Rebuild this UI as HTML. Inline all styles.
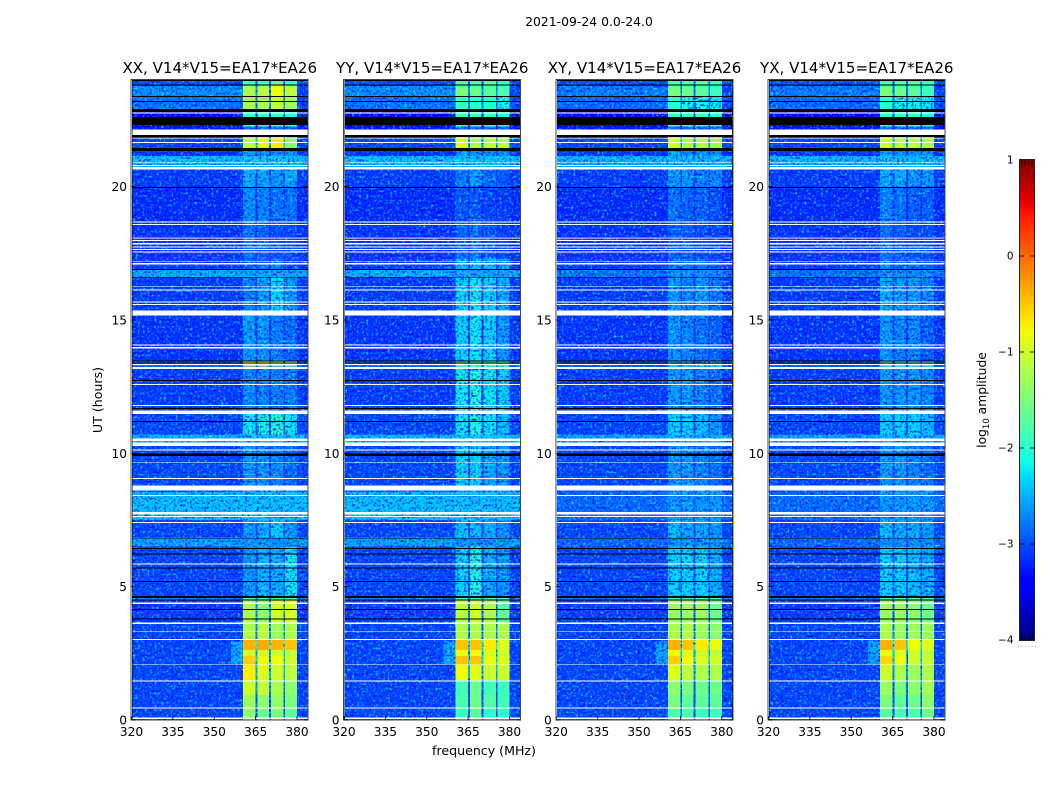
<!DOCTYPE html>
<html lang="en">
<head>
<meta charset="utf-8">
<title>Amplitude spectrogram 2021-09-24</title>
<style>
html,body{margin:0;padding:0;background:#fff;}
svg{display:block;}
text{font-family:"DejaVu Sans","Liberation Sans",sans-serif;fill:#000;}
</style>
</head>
<body>
<svg id="chart" xmlns="http://www.w3.org/2000/svg" width="1050" height="800" viewBox="0 0 1050 800">
<defs>
<filter id="grain-light" x="0" y="0" width="100%" height="100%" color-interpolation-filters="sRGB">
<feTurbulence type="fractalNoise" baseFrequency="0.42" numOctaves="2" seed="4"/>
<feColorMatrix values="0 0 0 0 0  2.8 0 0 0 -1.4  0 0 0 0 0  0 0 0 0 1"/>
</filter>
<filter id="grain-dark" x="0" y="0" width="100%" height="100%" color-interpolation-filters="sRGB">
<feTurbulence type="fractalNoise" baseFrequency="0.42" numOctaves="2" seed="11"/>
<feColorMatrix values="0 0 0 0 1  3 0 0 0 -0.55  0 0 0 0 1  0 0 0 0 1"/>
</filter>
</defs>
<text x="589" y="26" font-size="12.4" text-anchor="middle">2021-09-24 0.0-24.0</text>
<text x="484" y="755" font-size="12.6" text-anchor="middle">frequency (MHz)</text>
<text transform="translate(102,400) rotate(-90)" font-size="12.6" text-anchor="middle">UT (hours)</text>
<text transform="translate(986,400) rotate(-90)" font-size="12.3" text-anchor="middle">log<tspan font-size="8.5" dy="3">10</tspan><tspan dy="-3"> amplitude</tspan></text>
<g id="panels"></g>
<g id="colorbar"></g>
</svg>
<script>
// Panel titles and axis tick labels
const panelNames = ['XX', 'YY', 'XY', 'YX'];
const freqTicks = [320, 335, 350, 365, 380];
const hourTicks = [0, 5, 10, 15, 20];
const colorbarTicks = [1, 0, -1, -2, -3, -4];

// Sub-band frequency limits in MHz
const subbandStart = [360.5, 365.6, 370.5, 375.7];
const subbandEnd = [365.0, 369.8, 375.1, 380.0];

// Time sections, UT hours from top to bottom (one row for each pair of edges)
const sectionEdges = [24, 23.78, 23.40, 22.91, 22.25, 21.95, 21.45, 21.15, 20.65, 20.0, 18.7, 17.3, 16.87, 16.6, 15.15, 13.47, 13.25, 11.5, 10.7, 10.28, 8.75, 8.55, 7.95, 7.5, 6.85, 6.5, 4.65, 4.5, 3.68, 3.0, 2.62, 2.4, 2.06, 1.5, 0.94, 0.4, 0];

// Out-of-band log10 amplitude by section
const parallelBackground = [-3.0, -2.65, -2.8, -3.6, -3.35, -3.05, -3.15, -2.4, -3.1, -3.2, -3.15, -3.1, -2.5, -3.1, -3.15, -2.75, -3.1, -3.05, -2.45, -3.05, -3.0, -2.4, -2.4, -3.05, -2.55, -3.05, -2.65, -3.1, -3.05, -3.05, -3.05, -3.05, -3.05, -3.05, -3.05, -3.05];
const crossBackground = [-3.0, -2.75, -2.85, -3.6, -3.35, -3.05, -3.15, -2.45, -3.1, -3.2, -3.15, -3.1, -2.8, -3.1, -3.15, -2.85, -3.1, -3.05, -2.55, -3.05, -3.0, -2.85, -2.85, -3.05, -2.85, -3.05, -2.75, -3.1, -3.05, -3.05, -3.05, -3.05, -3.05, -3.05, -3.05, -3.05];

// In-band log10 amplitude, four sub-bands per section
const xxBands = [[-1.8,-1.8,-1.6,-1.9],[-1.2,-1.1,-0.8,-1.1],[-1.2,-1.2,-1.1,-1.3],[-1.9,-1.9,-1.9,-2.0],[-2.85,-2.85,-2.85,-2.85],[-1.1,-0.8,-0.7,-1.4],[-2.55,-2.65,-2.65,-2.65],[-2.35,-2.35,-2.35,-2.35],[-2.5,-2.5,-2.6,-2.5],[-2.65,-2.7,-2.8,-2.8],[-2.8,-2.9,-3.0,-3.0],[-2.95,-2.85,-2.75,-2.95],[-2.55,-2.55,-2.55,-2.55],[-2.75,-2.6,-2.25,-2.6],[-2.6,-2.6,-2.75,-2.85],[-0.8,-0.8,-1.2,-1.1],[-2.7,-2.7,-2.75,-2.75],[-2.2,-2.15,-2.05,-2.2],[-2.4,-2.4,-2.4,-2.4],[-2.6,-2.6,-2.7,-2.85],[-2.55,-2.55,-2.55,-2.55],[-2.4,-2.4,-2.4,-2.4],[-2.4,-2.4,-2.4,-2.4],[-2.6,-2.5,-2.3,-2.6],[-2.65,-2.65,-2.65,-2.65],[-2.6,-2.45,-2.5,-2.2],[-1.8,-1.8,-1.8,-1.8],[-1.2,-1.4,-1.0,-0.95],[-1.2,-1.1,-1.3,-1.2],[-0.4,-0.35,-0.4,-0.5],[-0.95,-0.95,-1.0,-1.1],[-0.55,-0.8,-0.8,-1.0],[-0.7,-0.9,-1.0,-1.1],[-1.0,-1.05,-1.2,-1.4],[-1.3,-1.4,-1.35,-1.5],[-1.4,-1.6,-1.5,-1.7]];
const yyBands = [[-1.8,-1.8,-1.7,-1.9],[-1.5,-1.6,-1.7,-1.8],[-1.9,-2.0,-2.0,-2.1],[-1.9,-1.9,-1.9,-2.0],[-2.85,-2.85,-2.85,-2.85],[-0.9,-1.2,-1.1,-1.1],[-2.55,-2.65,-2.65,-2.65],[-2.35,-2.35,-2.35,-2.35],[-2.75,-2.6,-2.85,-2.95],[-2.95,-2.95,-3.05,-3.1],[-2.85,-2.8,-2.95,-3.05],[-2.45,-2.4,-2.45,-2.6],[-2.55,-2.55,-2.55,-2.55],[-2.3,-2.2,-2.3,-2.5],[-2.3,-2.2,-2.3,-2.6],[-1.7,-1.7,-1.7,-1.7],[-2.2,-2.1,-2.2,-2.3],[-2.2,-2.1,-2.2,-2.4],[-2.35,-2.35,-2.35,-2.35],[-2.3,-2.3,-2.5,-2.6],[-2.55,-2.55,-2.55,-2.55],[-2.4,-2.4,-2.4,-2.4],[-2.4,-2.4,-2.4,-2.4],[-2.4,-2.4,-2.5,-2.6],[-2.65,-2.65,-2.65,-2.65],[-2.3,-2.1,-2.5,-2.6],[-1.8,-1.8,-1.8,-1.8],[-1.15,-1.0,-1.2,-1.7],[-1.2,-1.2,-1.2,-1.2],[-0.5,-0.5,-0.7,-0.9],[-0.8,-0.8,-0.9,-1.0],[-0.5,-0.5,-0.85,-0.9],[-0.8,-0.85,-1.0,-1.0],[-1.85,-1.6,-1.85,-1.9],[-1.8,-1.6,-1.75,-1.85],[-1.9,-1.7,-2.0,-2.0]];
const xyBands = [[-1.8,-1.8,-1.7,-1.9],[-1.5,-1.6,-1.7,-1.9],[-2.0,-2.1,-2.1,-2.2],[-1.9,-1.9,-1.9,-2.0],[-2.85,-2.85,-2.85,-2.85],[-1.0,-1.2,-1.2,-1.3],[-2.55,-2.65,-2.65,-2.65],[-2.4,-2.4,-2.4,-2.4],[-2.6,-2.6,-2.7,-2.7],[-2.8,-2.9,-2.9,-3.0],[-2.9,-2.9,-3.0,-3.05],[-2.8,-2.8,-2.8,-2.9],[-2.65,-2.65,-2.65,-2.65],[-2.6,-2.7,-2.6,-2.8],[-2.6,-2.7,-2.8,-2.9],[-2.1,-2.1,-2.1,-2.1],[-2.6,-2.6,-2.7,-2.8],[-2.3,-2.3,-2.4,-2.6],[-2.45,-2.45,-2.45,-2.45],[-2.6,-2.6,-2.7,-2.8],[-2.55,-2.55,-2.55,-2.55],[-2.6,-2.6,-2.6,-2.6],[-2.6,-2.6,-2.6,-2.6],[-2.4,-2.5,-2.5,-2.6],[-2.65,-2.65,-2.65,-2.65],[-2.3,-2.3,-2.3,-2.5],[-1.8,-1.8,-1.8,-1.8],[-1.3,-1.3,-1.3,-1.6],[-1.2,-1.2,-1.3,-1.4],[-0.4,-0.5,-0.7,-0.85],[-0.8,-0.9,-1.0,-1.1],[-0.55,-0.8,-0.9,-1.0],[-0.9,-1.1,-1.2,-1.2],[-1.4,-1.5,-1.6,-1.6],[-1.5,-1.7,-1.7,-1.7],[-1.8,-1.8,-1.9,-1.9]];
const yxBands = [[-1.8,-1.8,-1.7,-1.9],[-1.5,-1.6,-1.7,-1.9],[-2.0,-2.1,-2.1,-2.2],[-1.9,-1.9,-1.9,-2.0],[-2.85,-2.85,-2.85,-2.85],[-1.0,-1.1,-1.1,-1.2],[-2.55,-2.65,-2.65,-2.65],[-2.4,-2.4,-2.4,-2.4],[-2.5,-2.5,-2.6,-2.6],[-2.7,-2.8,-2.9,-2.9],[-2.8,-2.9,-3.0,-3.0],[-2.7,-2.8,-2.8,-2.9],[-2.65,-2.65,-2.65,-2.65],[-2.5,-2.6,-2.6,-2.7],[-2.6,-2.7,-2.7,-2.9],[-1.7,-1.7,-1.7,-1.7],[-2.6,-2.6,-2.6,-2.7],[-2.3,-2.3,-2.3,-2.4],[-2.45,-2.45,-2.45,-2.45],[-2.6,-2.6,-2.7,-2.8],[-2.55,-2.55,-2.55,-2.55],[-2.6,-2.6,-2.6,-2.6],[-2.6,-2.6,-2.6,-2.6],[-2.4,-2.5,-2.5,-2.6],[-2.65,-2.65,-2.65,-2.65],[-2.3,-2.3,-2.4,-2.5],[-1.8,-1.8,-1.8,-1.8],[-1.3,-1.3,-1.4,-1.6],[-1.2,-1.3,-1.3,-1.3],[-0.4,-0.5,-0.8,-0.9],[-0.8,-0.9,-1.0,-1.1],[-0.6,-0.8,-1.0,-1.05],[-1.0,-1.2,-1.3,-1.2],[-1.3,-1.5,-1.4,-1.25],[-1.5,-1.7,-1.6,-1.4],[-1.7,-1.8,-1.8,-1.6]];

// Weak emission just below the band around 2-3 UT: start MHz, end MHz, top hour, bottom hour, level
const shoulderSpan = [356, 360.5, 2.95, 2.1, -2.55];

// Darker strip above the band near the top of the day: start MHz, end MHz, top hour, bottom hour, level
const upperEdgeSpan = [380, 384, 23.78, 22.91, -3.05];

// Flagged time spans, UT hours [top, bottom]
const whiteFlags = [[22.78,22.74],[22.14,21.93],[21.81,21.78],[21.68,21.64],[20.91,20.88],[20.81,20.78],[20.73,20.65],[18.69,18.65],[18.60,18.56],[18.09,18.05],[18.0,17.96],[17.88,17.84],[17.76,17.72],[17.66,17.63],[17.56,17.53],[17.22,17.19],[17.13,17.09],[16.26,16.23],[16.14,16.11],[15.69,15.65],[15.6,15.56],[15.35,15.17],[14.08,14.05],[13.99,13.94],[13.35,13.31],[13.23,13.17],[12.6,12.56],[11.81,11.78],[11.6,11.48],[10.56,10.46],[10.41,10.28],[10.15,10.11],[9.66,9.63],[9.08,9.04],[8.79,8.6],[8.44,8.4],[7.8,7.71],[7.65,7.61],[7.43,7.39],[5.87,5.83],[4.4,4.35],[3.66,3.6],[3.34,3.31],[3.04,3.0],[2.09,2.06],[1.48,1.45],[0.47,0.44],[0.09,0.04]];
const blackFlags = [[24,23.96],[23.83,23.79],[23.4,23.36],[23.21,23.18],[22.91,22.8],[22.61,22.31],[21.93,21.87],[21.45,21.34],[19.99,19.95],[18.12,18.09],[16.92,16.87],[16.62,16.59],[13.48,13.45],[13.4,13.36],[12.75,12.71],[11.7,11.66],[11.21,11.18],[10.0,9.9],[6.81,6.78],[6.45,6.41],[6.24,6.21],[5.72,5.69],[5.21,5.18],[4.65,4.58],[4.52,4.48],[4.16,4.13],[3.81,3.77]];

const NS = 'http://www.w3.org/2000/svg';
const panelLeft = [131.5, 344, 556.3, 768.5];
const panelWidth = 176.5;
const plotTop = 80;
const plotBottom = 720;
const freqMin = 320;
const freqMax = 384;
const hourMax = 24;
const levelMin = -4;
const levelMax = 1;
const smoothLevel = -2.05;
const barLeft = 1019;
const barRight = 1035;
const barTop = 160;
const barBottom = 640;

function make(tag, attrs, parent) {
  const el = document.createElementNS(NS, tag);
  for (const k in attrs) el.setAttribute(k, attrs[k]);
  parent.appendChild(el);
  return el;
}
function ramp(t, pts) {
  for (let i = 1; i < pts.length; i++) {
    if (t <= pts[i][0]) {
      const a = pts[i - 1], b = pts[i];
      return a[1] + (b[1] - a[1]) * (t - a[0]) / (b[0] - a[0]);
    }
  }
  return pts[pts.length - 1][1];
}
function jet(level) {
  const t = Math.max(0, Math.min(1, (level - levelMin) / (levelMax - levelMin)));
  const r = ramp(t, [[0, 0], [0.35, 0], [0.66, 1], [0.89, 1], [1, 0.5]]);
  const g = ramp(t, [[0, 0], [0.125, 0], [0.375, 1], [0.64, 1], [0.91, 0], [1, 0]]);
  const b = ramp(t, [[0, 0.5], [0.11, 1], [0.34, 1], [0.65, 0], [1, 0]]);
  return 'rgb(' + Math.round(r * 255) + ',' + Math.round(g * 255) + ',' + Math.round(b * 255) + ')';
}
function xScale(panel, f) {
  return panelLeft[panel] + (f - freqMin) * panelWidth / (freqMax - freqMin);
}
function yScale(h) {
  return plotBottom - h * (plotBottom - plotTop) / hourMax;
}
function barScale(level) {
  return barBottom - (level - levelMin) * (barBottom - barTop) / (levelMax - levelMin);
}
function cell(parent, panel, f0, f1, h0, h1, fill) {
  const x0 = xScale(panel, f0), x1 = xScale(panel, f1), y0 = yScale(h0), y1 = yScale(h1);
  const r = make('rect', {x: x0, y: y0, width: x1 - x0, height: y1 - y0, fill: fill, 'shape-rendering': 'crispEdges'}, parent);
  return r;
}

const panelsRoot = document.getElementById('panels');
const bandSets = [xxBands, yyBands, xyBands, yxBands];
const backgroundSets = [parallelBackground, parallelBackground, crossBackground, crossBackground];

panelNames.forEach(function (name, p) {
  const g = make('g', {style: 'isolation:isolate'}, panelsRoot);
  
  

  const heat = make('g', {}, g);
  
  

  const bands = bandSets[p];
  const bg = backgroundSets[p];
  for (let s = 0; s < sectionEdges.length - 1; s++) {
    const h0 = sectionEdges[s], h1 = sectionEdges[s + 1];
    const back = cell(heat, p, freqMin + 0.3, freqMax - 0.2, h0, h1, jet(bg[s]));
    
    
    const row = bands[s];
    const mean = (row[0] + row[1] + row[2] + row[3]) / 4;
    const gap = cell(heat, p, subbandStart[0], subbandEnd[3], h0, h1, jet(Math.max(bg[s], mean - 1.5)));
    
    
    for (let b = 0; b < 4; b++) {
      if (row[b] <= smoothLevel) {
        const c = cell(heat, p, subbandStart[b], subbandEnd[b], h0, h1, jet(row[b]));
        
        
      }
    }
  }
  const sh = cell(heat, p, shoulderSpan[0], shoulderSpan[1], shoulderSpan[2], shoulderSpan[3], jet(shoulderSpan[4]));
  
  
  const ue = cell(heat, p, upperEdgeSpan[0], freqMax - 0.2, upperEdgeSpan[2], upperEdgeSpan[3], jet(upperEdgeSpan[4]));
  
  

  // Purely decorative receiver-noise grain; it carries no data values
  const gx = xScale(p, freqMin + 0.3), gw = xScale(p, freqMax - 0.2) - gx;
  const light = make('rect', {x: gx, y: plotTop, width: gw, height: plotBottom - plotTop, filter: 'url(#grain-light)', style: 'mix-blend-mode:screen'}, g);
  
  
  const dark = make('rect', {x: gx, y: plotTop, width: gw, height: plotBottom - plotTop, filter: 'url(#grain-dark)', style: 'mix-blend-mode:multiply'}, g);
  
  

  // Strong sub-band cells sit above the grain because the reference is smooth there
  for (let s = 0; s < sectionEdges.length - 1; s++) {
    for (let b = 0; b < 4; b++) {
      if (bands[s][b] > smoothLevel) {
        const c = cell(g, p, subbandStart[b], subbandEnd[b], sectionEdges[s], sectionEdges[s + 1], jet(bands[s][b]));
        
        
      }
    }
  }

  whiteFlags.forEach(function (f) {
    const r = cell(g, p, freqMin + 0.3, freqMax - 0.2, f[0], f[1], '#fff');
    
    
  });
  blackFlags.forEach(function (f) {
    const r = cell(g, p, freqMin + 0.3, freqMax - 0.2, f[0], f[1], '#000');
    
    
  });

  const frame = make('rect', {x: panelLeft[p] - 0.5, y: plotTop - 0.5, width: panelWidth + 0.5, height: plotBottom - plotTop + 0.5, fill: 'none', stroke: '#444', 'stroke-width': 1, 'shape-rendering': 'crispEdges'}, g);
  
  

  freqTicks.forEach(function (f) {
    const x = xScale(p, f);
    const t = make('line', {x1: x, x2: x, y1: plotBottom, y2: plotBottom - 4, stroke: '#000', 'stroke-width': 0.8}, g);
    
    
    const l = make('text', {x: x, y: 736, 'font-size': 12.2, 'text-anchor': 'middle'}, g);
    
    
    l.textContent = f;
  });
  hourTicks.forEach(function (h) {
    const y = yScale(h);
    const t = make('line', {x1: panelLeft[p], x2: panelLeft[p] + 4, y1: y, y2: y, stroke: '#000', 'stroke-width': 0.8}, g);
    
    
    const t2 = make('line', {x1: panelLeft[p] + panelWidth, x2: panelLeft[p] + panelWidth - 4, y1: y, y2: y, stroke: '#000', 'stroke-width': 0.8}, g);
    
    
    const l = make('text', {x: panelLeft[p] - 4.5, y: y + 4.5, 'font-size': 12.2, 'text-anchor': 'end'}, g);
    
    
    l.textContent = h;
  });

  const title = make('text', {x: panelLeft[p] + panelWidth / 2, y: 73, 'font-size': 15.05, 'text-anchor': 'middle'}, g);
  
  
  title.textContent = name + ', V14*V15=EA17*EA26';
});

const cb = document.getElementById('colorbar');
for (let y = barTop; y < barBottom; y += 2) {
  const level = levelMax - (y + 1 - barTop) * (levelMax - levelMin) / (barBottom - barTop);
  const r = make('rect', {x: barLeft, y: barScale(level) - 1, width: barRight - barLeft, height: 2.2, fill: jet(level), 'shape-rendering': 'crispEdges'}, cb);
  
  
}
const cbFrame = make('rect', {x: barLeft + 0.5, y: barTop - 0.5, width: barRight - barLeft - 1, height: barBottom - barTop + 1, fill: 'none', stroke: '#222', 'stroke-width': 1, 'shape-rendering': 'crispEdges'}, cb);


colorbarTicks.forEach(function (v) {
  const y = barScale(v);
  const l = make('text', {x: 1013.5, y: y + 3.5, 'font-size': 10.5, 'text-anchor': 'end'}, cb);
  
  
  l.textContent = v < 0 ? '\u2212' + Math.abs(v) : String(v);
  if (v !== levelMax && v !== levelMin) {
    const a = make('line', {x1: barLeft, x2: barLeft + 5, y1: y, y2: y, stroke: '#000', 'stroke-width': 0.8}, cb);
    
    
    const b = make('line', {x1: barRight - 5, x2: barRight, y1: y, y2: y, stroke: '#000', 'stroke-width': 0.8}, cb);
    
    
  }
});
[0.17, 0.38, 0.59, 0.8].forEach(function (frac) {
  const x = barLeft + frac * (barRight - barLeft);
  const top = make('line', {x1: x, x2: x, y1: barTop, y2: barTop + 5, stroke: '#000', 'stroke-width': 0.8}, cb);
  
  
  const bot = make('line', {x1: x, x2: x, y1: barBottom - 5, y2: barBottom, stroke: '#000', 'stroke-width': 0.8}, cb);
  
  
});
for (let i = 0; i < 6; i++) {
  const d = make('rect', {x: 1018 + i * 3.4, y: 646, width: 1, height: 1, fill: '#aaa'}, cb);
  
  
}
</script>
</body>
</html>
